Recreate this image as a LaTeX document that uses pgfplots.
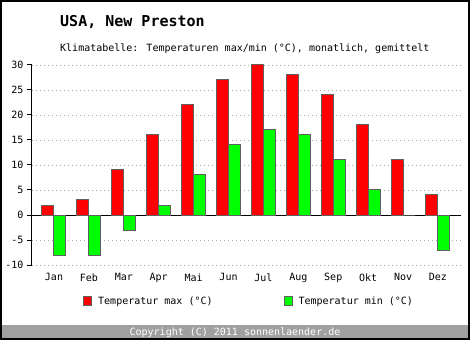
\documentclass[border=0pt]{standalone}
\usepackage{fontspec}
\setmainfont{DejaVu Sans Mono}
\usepackage{pgfplots}
\pgfplotsset{compat=1.18}
\definecolor{barframe}{RGB}{96,96,96}
\definecolor{barred}{RGB}{255,0,0}
\definecolor{bargreen}{RGB}{0,255,0}
\definecolor{copybar}{RGB}{160,160,160}
\begin{document}
\begin{tikzpicture}[x=1pt,y=1pt]
\fill[white] (0,0) rectangle (470,340);
\fill[copybar] (2,2) rectangle (468,15);
\node[white, inner sep=0pt, anchor=base, font=\fontsize{10}{12}\selectfont] at (235,5) {Copyright (C) 2011 sonnenlaender.de};
\node[inner sep=0pt, anchor=base west, font=\fontsize{15}{18}\selectfont\bfseries] at (60,313) {USA, New Preston};
\node[inner sep=0pt, anchor=base west, font=\fontsize{10}{12}\selectfont] at (60,288) {Klimatabelle: Temperaturen max/min (°C), monatlich, gemittelt};
\begin{axis}[
  at={(32pt,75pt)}, anchor=south west,
  scale only axis, width=429pt, height=200pt,
  xmin=-0.63, xmax=11.66, ymin=-10, ymax=30,
  axis x line=bottom, axis y line=left,
  axis line style={-},
  x axis line style={draw=none},
  y axis line style={black, line width=1pt},
  xtick={0,...,11},
  xticklabels={Jan,Feb,Mar,Apr,Mai,Jun,Jul,Aug,Sep,Okt,Nov,Dez},
  xtick style={draw=none},
  ytick={-10,-5,...,30},
  ytick style={black, line width=1pt},
  tick align=outside, major tick length=5pt,
  /pgf/number format/assume math mode=true,
  tick label style={font=\fontsize{10}{12}\selectfont},
  ymajorgrids,
  major grid style={gray!70, line width=0.8pt, dash pattern=on 1pt off 3pt},
  extra y ticks={0}, extra y tick labels={},
  extra y tick style={major grid style={black, solid, line width=1pt}, major tick length=0pt},
  legend columns=2,
  legend style={at={(axis description cs:0.1189,-0.18)}, anchor=west, draw=none, fill=none, inner sep=0pt,
    font=\fontsize{10}{12}\selectfont,
    nodes={inner sep=0pt},
    /tikz/every odd column/.append style={column sep=6pt},
    /tikz/every even column/.append style={column sep=71pt}},
  mybar/.style={ybar, bar width=12pt, draw=barframe, line width=1pt,
    legend image code/.code={\draw[##1, line width=1pt] (0pt,-4.5pt) rectangle (8pt,4.5pt);}},
]
\addplot[mybar, fill=barred, bar shift=-6pt] coordinates {
(0,2) (1,3) (2,9) (3,16) (4,22) (5,27) (6,30) (7,28) (8,24) (9,18) (10,11) (11,4)};
\addlegendentry{Temperatur max (°C)}
\addplot[mybar, fill=bargreen, bar shift=6pt] coordinates {
(0,-8) (1,-8) (2,-3) (3,2) (4,8) (5,14) (6,17) (7,16) (8,11) (9,5) (10,0) (11,-7)};
\addlegendentry{Temperatur min (°C)}
\end{axis}
\draw[black, line width=2pt] (1,1) rectangle (469,339);
\end{tikzpicture}
\end{document}
